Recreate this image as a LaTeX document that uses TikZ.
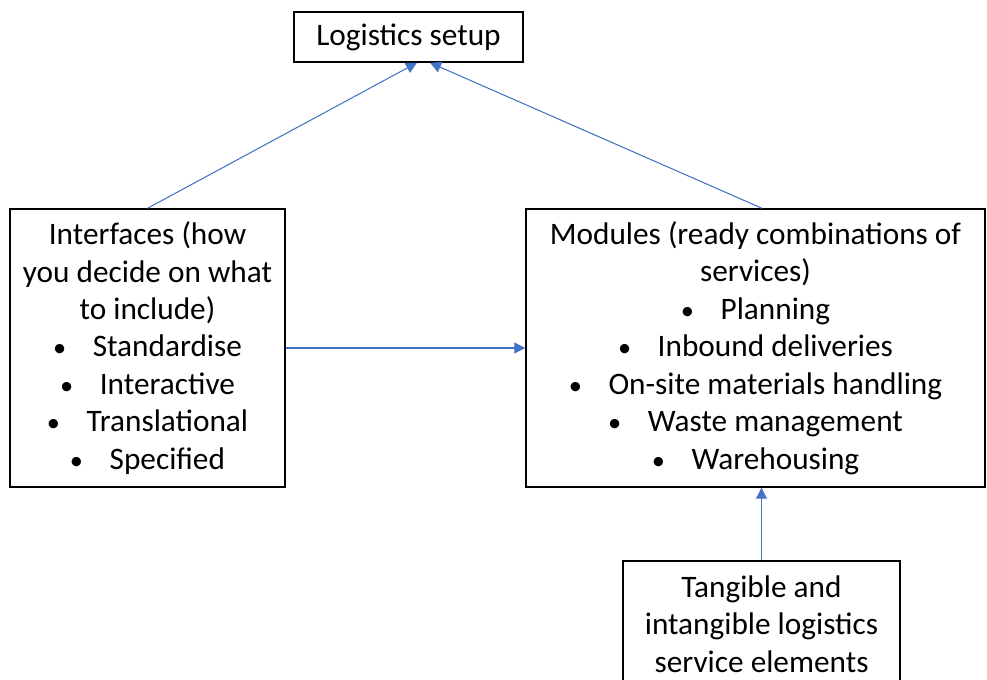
\documentclass[tikz,border=0pt]{standalone}
\usepackage{fontspec}
\setmainfont{Carlito}
\usetikzlibrary{arrows.meta}
\definecolor{linkblue}{RGB}{68,114,196}
\newcommand{\bitem}[1]{{\fontsize{15}{21.3}\selectfont\textbullet}\hspace{0.85em}#1}
\begin{document}
\begin{tikzpicture}
            \tikzstyle{box} = [draw=black, line width=0.8pt, align=center, inner sep=0pt, font=\fontsize{17.8}{21.3}\selectfont]
            \tikzstyle{link} = [color=linkblue, line width=0.6pt, -{Triangle[length=0.22cm, width=0.22cm]}]
            \clip (0, 0) rectangle (19.74, -13.6);
            \node[box, minimum width=4.58cm, minimum height=1cm] (setup) at (8.17, -0.74) {Logistics setup};
            \node[box, minimum width=5.5cm, minimum height=5.56cm] (iface) at (2.95, -6.96)
                {Interfaces (how\\you decide on what\\to include)\\\bitem{Standardise}\\\bitem{Interactive}\\\bitem{Translational}\\\bitem{Specified}};
            \node[box, minimum width=9.18cm, minimum height=5.56cm] (modules) at (15.11, -6.96)
                {Modules (ready combinations of\\services)\\\bitem{Planning}\\\bitem{Inbound deliveries}\\\bitem{On-site materials handling}\\\bitem{Waste management}\\\bitem{Warehousing}};
            \node[box, minimum width=5.54cm, minimum height=2.52cm] (tangible) at (15.23, -12.48)
                {Tangible and\\intangible logistics\\service elements};

            \draw[link] (iface.north) -- ([xshift=0.17cm]setup.south);
            \draw[link] ([xshift=0.13cm]modules.north) -- ([xshift=0.43cm]setup.south);
            \draw[link] (iface.east) -- (modules.west);
            \draw[link] (tangible.north) -- (tangible.north |- modules.south);
        \end{tikzpicture}
\end{document}
